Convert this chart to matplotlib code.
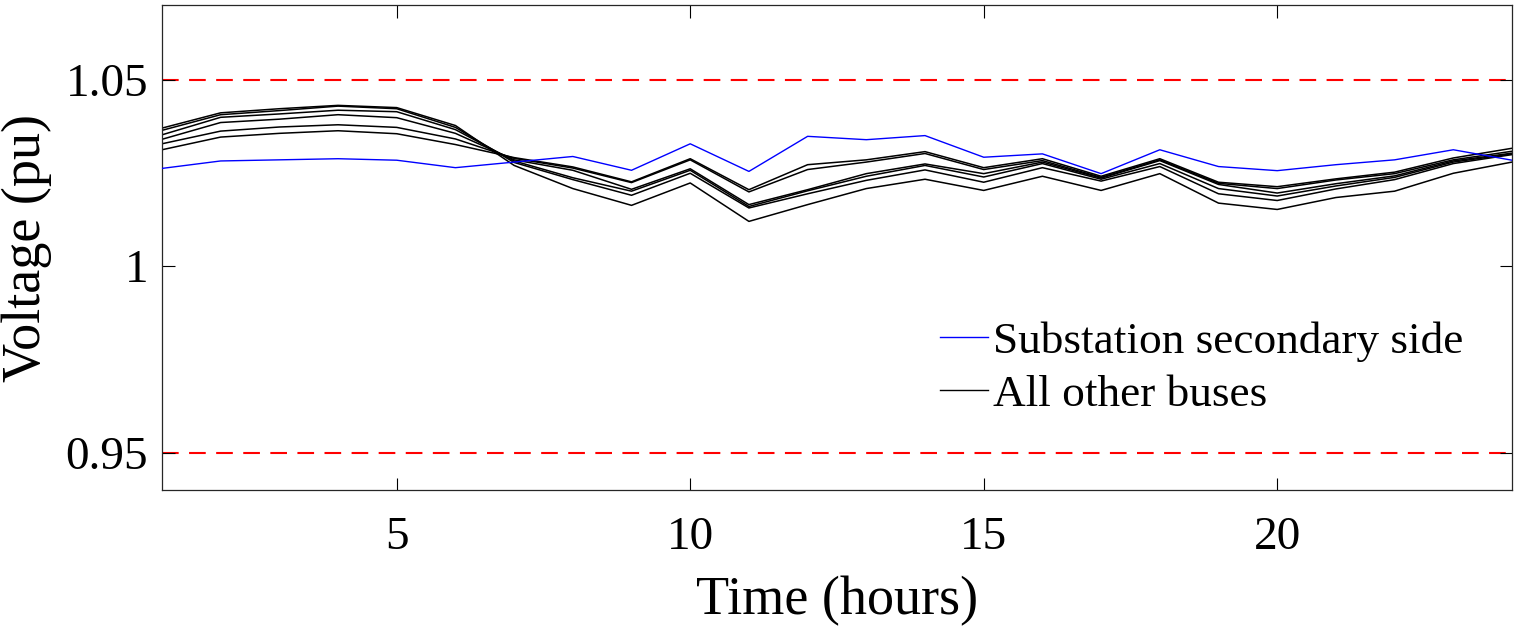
import matplotlib
matplotlib.use("Agg")
import matplotlib.pyplot as plt

plt.rcParams['font.family'] = ['Liberation Serif', 'DejaVu Serif']
plt.rcParams['mathtext.fontset'] = 'stix'

hours = list(range(1, 25))

substation = [1.0262, 1.0282, 1.0285, 1.0288, 1.0284, 1.0264, 1.0279, 1.0294,
              1.0257, 1.0328, 1.0254, 1.0348, 1.0339, 1.0350, 1.0292, 1.0301,
              1.0248, 1.0312, 1.0267, 1.0256, 1.0272, 1.0285, 1.0312, 1.0284]

bus_a = [1.0312, 1.0346, 1.0356, 1.0363, 1.0355, 1.0326, 1.0291, 1.0266,
         1.0226, 1.0288, 1.0205, 1.0272, 1.0285, 1.0307, 1.0264, 1.0288,
         1.0241, 1.0288, 1.0225, 1.0213, 1.0234, 1.0252, 1.0290, 1.0316]
bus_b = [1.0328, 1.0362, 1.0373, 1.0379, 1.0372, 1.0341, 1.0289, 1.0263,
         1.0224, 1.0285, 1.0199, 1.0259, 1.0279, 1.0302, 1.0259, 1.0283,
         1.0238, 1.0285, 1.0222, 1.0208, 1.0231, 1.0248, 1.0285, 1.0308]
bus_c = [1.0340, 1.0385, 1.0394, 1.0406, 1.0398, 1.0356, 1.0285, 1.0257,
         1.0206, 1.0261, 1.0165, 1.0205, 1.0248, 1.0274, 1.0248, 1.0279,
         1.0236, 1.0283, 1.0219, 1.0196, 1.0221, 1.0242, 1.0282, 1.0303]
bus_d = [1.0352, 1.0399, 1.0408, 1.0418, 1.0414, 1.0366, 1.0282, 1.0237,
         1.0201, 1.0257, 1.0160, 1.0202, 1.0241, 1.0270, 1.0239, 1.0275,
         1.0233, 1.0275, 1.0208, 1.0188, 1.0215, 1.0238, 1.0279, 1.0301]
bus_e = [1.0364, 1.0406, 1.0417, 1.0429, 1.0422, 1.0372, 1.0278, 1.0232,
         1.0190, 1.0249, 1.0156, 1.0194, 1.0230, 1.0258, 1.0225, 1.0264,
         1.0228, 1.0267, 1.0194, 1.0176, 1.0207, 1.0232, 1.0275, 1.0299]
bus_f = [1.0370, 1.0411, 1.0422, 1.0431, 1.0425, 1.0377, 1.0270, 1.0208,
         1.0163, 1.0223, 1.0120, 1.0165, 1.0208, 1.0233, 1.0203, 1.0241,
         1.0203, 1.0248, 1.0169, 1.0152, 1.0184, 1.0201, 1.0249, 1.0279]

other_buses = [bus_a, bus_b, bus_c, bus_d, bus_e, bus_f]

upper_limit = 1.05
lower_limit = 0.95

xticks = [5, 10, 15, 20]
yticks = [0.95, 1.0, 1.05]
yticklabels = ['0.95', '1', '1.05']

fig = plt.figure(figsize=(15.19, 6.34), dpi=100)
ax = fig.add_axes([0.1066, 0.2271, 0.8888, 0.7650])

ax.axhline(upper_limit, color='#ff0000', linestyle=(0, (8, 5)), linewidth=1.5, zorder=1)
ax.axhline(lower_limit, color='#ff0000', linestyle=(0, (8, 5)), linewidth=1.5, zorder=1)

ax.plot(hours, substation, color='#0000ff', linewidth=1.0, label='Substation secondary side', zorder=3)
for i, bus in enumerate(other_buses):
    ax.plot(hours, bus, color='black', linewidth=1.1,
            label='All other buses' if i == 0 else None, zorder=2)

ax.set_xlim(1, 24)
ax.set_ylim(0.94, 1.07)
ax.set_xticks(xticks)
ax.set_xticklabels([str(t) for t in xticks])
ax.set_yticks(yticks)
ax.set_yticklabels(yticklabels)

ax.tick_params(axis='both', which='both', direction='in', length=9, width=0.8,
               top=True, right=True, labelsize=34)
ax.tick_params(axis='x', pad=19)
ax.tick_params(axis='y', pad=10)
for s in ax.spines.values():
    s.set_linewidth(0.9)
    s.set_color('#262626')

ax.set_xlabel('Time (hours)', fontsize=39, labelpad=12)
ax.set_ylabel('Voltage (pu)', fontsize=39, labelpad=10)

leg = ax.legend(loc='upper left', bbox_to_anchor=(940 / 1519, 1 - 321 / 634),
                bbox_transform=fig.transFigure, frameon=False, fontsize=32.6,
                handlelength=1.05, handletextpad=0.12, labelspacing=0.27,
                borderpad=0, borderaxespad=0)
for line in leg.get_lines():
    line.set_linewidth(1.0)

fig.savefig('out.png', dpi=100)
